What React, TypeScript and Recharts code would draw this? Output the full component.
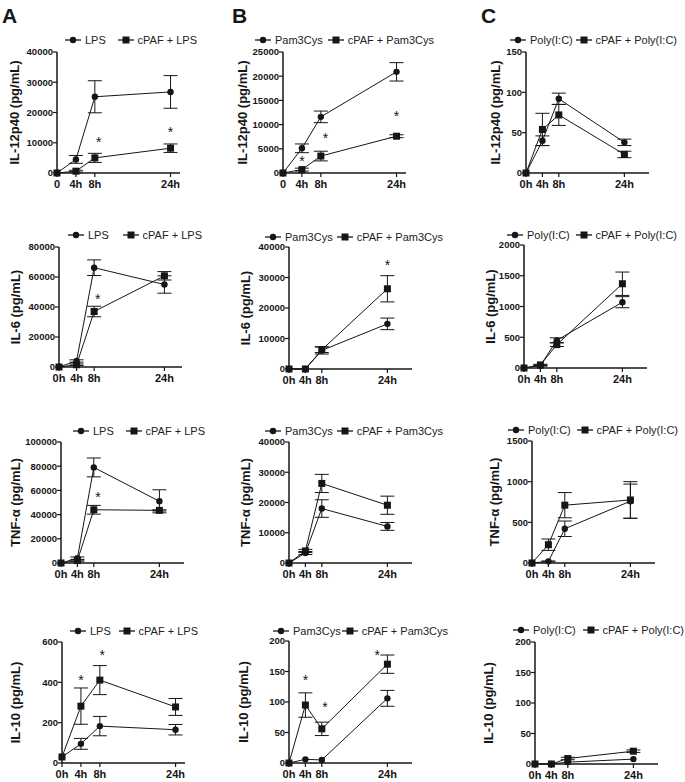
import React from 'react';
import { LineChart, Line, XAxis, YAxis, ErrorBar, Legend, Label, ReferenceDot } from 'recharts';

const FONT = 'Arial, "Liberation Sans", Helvetica, sans-serif';
const INK = '#161616';

// shared time points and tick labels
const hours = [0, 4, 8, 24];
const xLabelsZero = ['0', '4h', '8h', '24h'];
const xLabelsH = ['0h', '4h', '8h', '24h'];

const lpsNames = ['LPS', 'cPAF + LPS'];
const pamNames = ['Pam3Cys', 'cPAF + Pam3Cys'];
const polyNames = ['Poly(I:C)', 'cPAF + Poly(I:C)'];

// IL-12p40
const il12Lps = [0, 4500, 25200, 26800];
const il12LpsErr = [0, 1300, 5300, 5400];
const il12CpafLps = [0, 600, 5000, 8200];
const il12CpafLpsErr = [0, 300, 1500, 1400];
const il12LpsStars = [{ t: 8.8, v: 10500 }, { t: 24, v: 13800 }];

const il12Pam = [0, 5100, 11600, 20900];
const il12PamErr = [0, 900, 1200, 1900];
const il12CpafPam = [0, 700, 3500, 7600];
const il12CpafPamErr = [0, 300, 1000, 300];
const il12PamStars = [{ t: 4, v: 2700 }, { t: 9, v: 7500 }, { t: 24, v: 12000 }];

const il12Poly = [0, 40, 92, 38];
const il12PolyErr = [0, 6, 7, 4];
const il12CpafPoly = [0, 54, 72, 23];
const il12CpafPolyErr = [0, 20, 13, 4];

// IL-6
const il6Lps = [0, 4000, 66200, 55000];
const il6LpsErr = [0, 800, 5200, 5800];
const il6CpafLps = [0, 1500, 37000, 60800];
const il6CpafLpsErr = [0, 500, 3500, 2800];
const il6LpsStars = [{ t: 8.8, v: 46000 }];

const il6Pam = [0, 0, 6100, 14800];
const il6PamErr = [0, 0, 1200, 1900];
const il6CpafPam = [0, 0, 6300, 26300];
const il6CpafPamErr = [0, 0, 900, 4300];
const il6PamStars = [{ t: 24, v: 34500 }];

const il6Poly = [0, 40, 450, 1070];
const il6PolyErr = [0, 10, 40, 90];
const il6CpafPoly = [0, 50, 380, 1370];
const il6CpafPolyErr = [0, 10, 30, 190];

// TNF-a
const tnfLps = [0, 4000, 79000, 51000];
const tnfLpsErr = [0, 1000, 7800, 9500];
const tnfCpafLps = [0, 2000, 44000, 43500];
const tnfCpafLpsErr = [0, 500, 3600, 500];
const tnfLpsStars = [{ t: 9, v: 55500 }];

const tnfPam = [0, 3300, 18000, 12100];
const tnfPamErr = [0, 500, 2900, 1300];
const tnfCpafPam = [0, 4000, 26300, 19100];
const tnfCpafPamErr = [0, 500, 3000, 3000];

const tnfPoly = [0, 20, 421, 760];
const tnfPolyErr = [0, 5, 95, 210];
const tnfCpafPoly = [0, 225, 711, 775];
const tnfCpafPolyErr = [0, 70, 155, 225];

// IL-10
const il10Lps = [30, 95, 183, 165];
const il10LpsErr = [0, 27, 48, 26];
const il10CpafLps = [30, 282, 411, 278];
const il10CpafLpsErr = [0, 90, 72, 42];
const il10LpsStars = [{ t: 4, v: 415 }, { t: 8.5, v: 540 }];

const il10Pam = [0, 6, 5, 106];
const il10PamErr = [0, 0, 0, 13];
const il10CpafPam = [0, 95, 56, 162];
const il10CpafPamErr = [0, 20, 11, 15];
const il10PamStars = [{ t: 4, v: 138 }, { t: 8.8, v: 94 }, { t: 21.5, v: 179 }];

const il10Poly = [0, 0, 3, 8];
const il10PolyErr = [0, 0, 0, 0];
const il10CpafPoly = [0, 0, 9, 21];
const il10CpafPolyErr = [0, 0, 2, 2];

const YW = 64;
const PW = 123;
const MT = 30;
const MR = 60;
const XH = 20;

const CircleDot = (p: any) => {
  if (p.cx == null || p.cy == null) return null;
  return <circle key={p.index} cx={p.cx} cy={p.cy} r={3.2} fill={INK} />;
};
const SquareDot = (p: any) => {
  if (p.cx == null || p.cy == null) return null;
  return <rect key={p.index} x={p.cx - 3.5} y={p.cy - 3.5} width={7} height={7} fill={INK} />;
};
const Star = (p: any) => (
  <text x={p.cx} y={p.cy + 6} textAnchor="middle" fontSize={14} fontFamily={FONT} fill={INK}>*</text>
);

const LegendBox = ({ names, width }: { names: string[]; width: number }) => (
  <div style={{ display: 'flex', justifyContent: 'space-between', alignItems: 'center', width, fontFamily: FONT, fontSize: 11, color: '#222', lineHeight: '14px' }}>
    {names.map((n, i) => (
      <span key={n} style={{ display: 'flex', alignItems: 'center', whiteSpace: 'nowrap' }}>
        <svg width={16} height={10}>
          <line x1={0} y1={5} x2={16} y2={5} stroke={INK} strokeWidth={1.3} />
          {i === 0 ? <circle cx={8} cy={5} r={3.2} fill={INK} /> : <rect x={4.5} y={1.5} width={7} height={7} fill={INK} />}
        </svg>
        <span style={{ marginLeft: 4 }}>{n}</span>
      </span>
    ))}
  </div>
);

type Pt = { t: number; v: number };
interface PanelProps {
  axisX: number; top: number; bottom: number; xMax: number; labelX: number;
  yMax: number; yTicks: number[]; xLabels: string[]; yLabel: string; names: string[];
  a: number[]; aErr: number[]; b: number[]; bErr: number[]; stars?: Pt[];
  legX: number; legEnd: number; legY: number;
}

const Panel = (p: PanelProps) => {
  const ph = p.bottom - p.top;
  const left = p.axisX - YW;
  const topPx = p.top - MT;
  const data = hours.map((t, i) => ({ t, a: p.a[i], ae: p.aErr[i], b: p.b[i], be: p.bErr[i] }));
  const tickStyle = { fill: INK, fontSize: 9.5, fontWeight: 700, fontFamily: FONT };
  return (
    <div style={{ position: 'absolute', left, top: topPx }}>
      <LineChart width={YW + PW + MR} height={MT + ph + XH} data={data} margin={{ top: MT, right: MR, bottom: 0, left: 0 }}>
        <XAxis type="number" dataKey="t" domain={[0, p.xMax]} ticks={hours} interval={0} height={XH}
          tickFormatter={(v: number) => p.xLabels[hours.indexOf(v)]}
          tick={{ ...tickStyle, fontSize: 11 }} tickSize={4} tickMargin={3}
          axisLine={{ stroke: INK, strokeWidth: 1.5 }} tickLine={{ stroke: INK, strokeWidth: 1.2 }} />
        <YAxis type="number" domain={[0, p.yMax]} ticks={p.yTicks} interval={0} width={YW}
          tick={tickStyle} tickSize={4} tickMargin={0}
          axisLine={{ stroke: INK, strokeWidth: 1.5 }} tickLine={{ stroke: INK, strokeWidth: 1.2 }}>
          <Label content={(lp: any) => {
            const vb = lp.viewBox || { x: 0, y: MT, width: YW, height: ph };
            const cx = vb.x + vb.width - (p.axisX - p.labelX);
            const cy = vb.y + vb.height / 2;
            return (
              <text x={cx} y={cy} transform={`rotate(-90 ${cx} ${cy})`} textAnchor="middle" dominantBaseline="central"
                fontSize={13} fontWeight={700} fontFamily={FONT} fill={INK}>{p.yLabel}</text>
            );
          }} />
        </YAxis>
        <Legend layout="horizontal" verticalAlign="middle" align="center"
          wrapperStyle={{ left: p.legX - left, top: p.legY - 7 - topPx, width: p.legEnd - p.legX }}
          content={() => <LegendBox names={p.names} width={p.legEnd - p.legX} />} />
        <Line dataKey="a" name={p.names[0]} stroke={INK} strokeWidth={1} dot={CircleDot} activeDot={false} isAnimationActive={false}>
          <ErrorBar dataKey="ae" direction="y" width={7} stroke={INK} strokeWidth={1} />
        </Line>
        <Line dataKey="b" name={p.names[1]} stroke={INK} strokeWidth={1} dot={SquareDot} activeDot={false} isAnimationActive={false}>
          <ErrorBar dataKey="be" direction="y" width={7} stroke={INK} strokeWidth={1} />
        </Line>
        {(p.stars || []).map((s, i) => (
          <ReferenceDot key={i} x={s.t} y={s.v} r={0} ifOverflow="visible" shape={Star} />
        ))}
      </LineChart>
    </div>
  );
};

const panels: PanelProps[] = [
  { axisX: 57, top: 52, bottom: 173, xMax: 26, labelX: 14, yMax: 40000, yTicks: [0, 10000, 20000, 30000, 40000], xLabels: xLabelsZero, yLabel: 'IL-12p40 (pg/mL)', names: lpsNames, a: il12Lps, aErr: il12LpsErr, b: il12CpafLps, bErr: il12CpafLpsErr, stars: il12LpsStars, legX: 65, legEnd: 197, legY: 40 },
  { axisX: 283, top: 52, bottom: 173, xMax: 26, labelX: 242, yMax: 25000, yTicks: [0, 5000, 10000, 15000, 20000, 25000], xLabels: xLabelsZero, yLabel: 'IL-12p40 (pg/mL)', names: pamNames, a: il12Pam, aErr: il12PamErr, b: il12CpafPam, bErr: il12CpafPamErr, stars: il12PamStars, legX: 255, legEnd: 434, legY: 40 },
  { axisX: 526, top: 52, bottom: 173, xMax: 30, labelX: 495, yMax: 150, yTicks: [0, 50, 100, 150], xLabels: xLabelsH, yLabel: 'IL-12p40 (pg/mL)', names: polyNames, a: il12Poly, aErr: il12PolyErr, b: il12CpafPoly, bErr: il12CpafPolyErr, legX: 510, legEnd: 677, legY: 40 },

  { axisX: 59, top: 247, bottom: 367, xMax: 28, labelX: 15, yMax: 80000, yTicks: [0, 20000, 40000, 60000, 80000], xLabels: xLabelsH, yLabel: 'IL-6 (pg/mL)', names: lpsNames, a: il6Lps, aErr: il6LpsErr, b: il6CpafLps, bErr: il6CpafLpsErr, stars: il6LpsStars, legX: 68, legEnd: 202, legY: 235 },
  { axisX: 289, top: 247, bottom: 369, xMax: 30, labelX: 245, yMax: 40000, yTicks: [0, 10000, 20000, 30000, 40000], xLabels: xLabelsH, yLabel: 'IL-6 (pg/mL)', names: pamNames, a: il6Pam, aErr: il6PamErr, b: il6CpafPam, bErr: il6CpafPamErr, stars: il6PamStars, legX: 265, legEnd: 443, legY: 237 },
  { axisX: 524, top: 245, bottom: 368, xMax: 30, labelX: 490, yMax: 2000, yTicks: [0, 500, 1000, 1500, 2000], xLabels: xLabelsH, yLabel: 'IL-6 (pg/mL)', names: polyNames, a: il6Poly, aErr: il6PolyErr, b: il6CpafPoly, bErr: il6CpafPolyErr, legX: 507, legEnd: 677, legY: 235 },

  { axisX: 61, top: 442, bottom: 563, xMax: 30, labelX: 15, yMax: 100000, yTicks: [0, 20000, 40000, 60000, 80000, 100000], xLabels: xLabelsH, yLabel: 'TNF-α (pg/mL)', names: lpsNames, a: tnfLps, aErr: tnfLpsErr, b: tnfCpafLps, bErr: tnfCpafLpsErr, stars: tnfLpsStars, legX: 73, legEnd: 205, legY: 431 },
  { axisX: 289, top: 442, bottom: 563, xMax: 30, labelX: 245, yMax: 40000, yTicks: [0, 10000, 20000, 30000, 40000], xLabels: xLabelsH, yLabel: 'TNF-α (pg/mL)', names: pamNames, a: tnfPam, aErr: tnfPamErr, b: tnfCpafPam, bErr: tnfCpafPamErr, legX: 265, legEnd: 443, legY: 431 },
  { axisX: 532, top: 441, bottom: 563, xMax: 30, labelX: 494, yMax: 1500, yTicks: [0, 500, 1000, 1500], xLabels: xLabelsH, yLabel: 'TNF-α (pg/mL)', names: polyNames, a: tnfPoly, aErr: tnfPolyErr, b: tnfCpafPoly, bErr: tnfCpafPolyErr, legX: 508, legEnd: 678, legY: 430 },

  { axisX: 62, top: 642, bottom: 763, xMax: 26, labelX: 15, yMax: 600, yTicks: [0, 200, 400, 600], xLabels: xLabelsH, yLabel: 'IL-10 (pg/mL)', names: lpsNames, a: il10Lps, aErr: il10LpsErr, b: il10CpafLps, bErr: il10CpafLpsErr, stars: il10LpsStars, legX: 70, legEnd: 198, legY: 631 },
  { axisX: 289, top: 641, bottom: 763, xMax: 30, labelX: 243, yMax: 200, yTicks: [0, 50, 100, 150, 200], xLabels: xLabelsH, yLabel: 'IL-10 (pg/mL)', names: pamNames, a: il10Pam, aErr: il10PamErr, b: il10CpafPam, bErr: il10CpafPamErr, stars: il10PamStars, legX: 273, legEnd: 448, legY: 631 },
  { axisX: 535, top: 642, bottom: 764, xMax: 30, labelX: 488, yMax: 200, yTicks: [0, 50, 100, 150, 200], xLabels: xLabelsH, yLabel: 'IL-10 (pg/mL)', names: polyNames, a: il10Poly, aErr: il10PolyErr, b: il10CpafPoly, bErr: il10CpafPolyErr, legX: 513, legEnd: 684, legY: 630 },
];

const letters = [{ s: 'A', x: 2 }, { s: 'B', x: 232 }, { s: 'C', x: 481 }];

export default function App() {
  return (
    <div style={{ position: 'absolute', left: 0, top: 0, width: 685, height: 782, background: '#fff', overflow: 'hidden' }}>
      {letters.map((l) => (
        <div key={l.s} style={{ position: 'absolute', left: l.x, top: 5, fontFamily: FONT, fontWeight: 700, fontSize: 21, lineHeight: '21px', color: INK }}>{l.s}</div>
      ))}
      {panels.map((p, i) => <Panel key={i} {...p} />)}
    </div>
  );
}
